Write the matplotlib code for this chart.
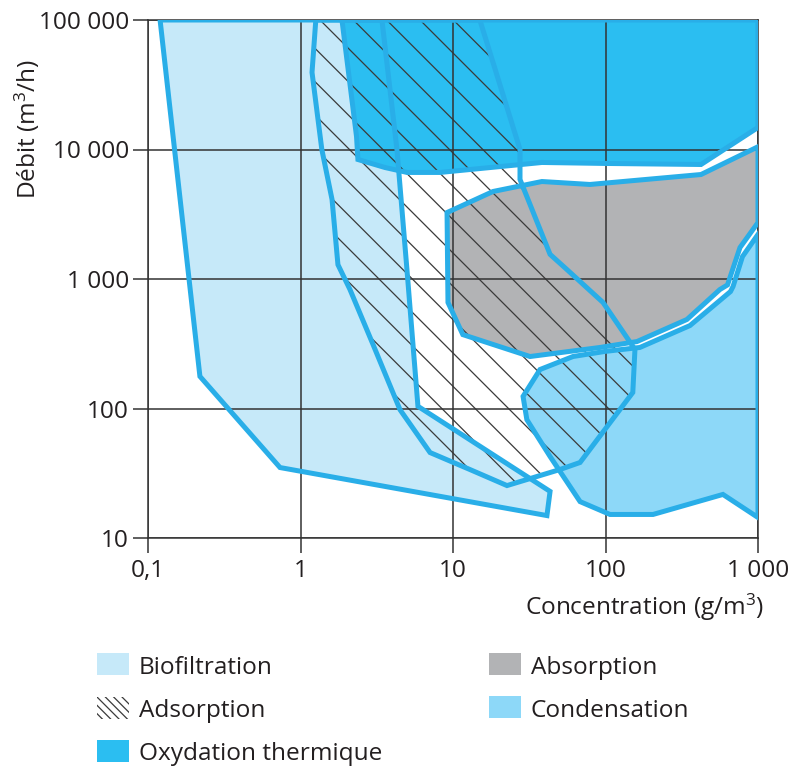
import matplotlib
matplotlib.use('Agg')
import matplotlib.pyplot as plt
from matplotlib.patches import Polygon, Rectangle
from matplotlib.ticker import FixedLocator, NullLocator, FixedFormatter

plt.rcParams['font.family'] = ['Open Sans', 'DejaVu Sans']
plt.rcParams['mathtext.fontset'] = 'custom'
plt.rcParams['mathtext.rm'] = 'Open Sans'
plt.rcParams['mathtext.it'] = 'Open Sans:italic'
plt.rcParams['mathtext.default'] = 'regular'
plt.rcParams['hatch.linewidth'] = 0.45

# ---------------- data ----------------
x_ticks = [0.1, 1, 10, 100, 1000]
x_labels = ['0,1', '1', '10', '100', '1 000']
y_ticks = [10, 100, 1000, 10000, 100000]
y_labels = ['10', '100', '1 000', '10 000', '100 000']

bio_conc = [0.12, 3.42, 4.29, 4.99, 5.89, 43.3, 41.3, 0.734, 0.219]
bio_debit = [100000, 100000, 10000, 1180, 104, 22.9, 14.9, 35.0, 177]

ads_conc = [1.26, 1.19, 1.38, 1.61, 1.76, 2.11, 2.99, 4.49, 7.07, 12.9, 22.6,
            50.3, 68.1, 151, 156, 96.3, 56.0, 43.3, 27.5, 27.5, 15.0]
ads_debit = [100000, 39400, 10000, 4110, 1290, 830, 312, 98, 45.7, 33.8, 25.4,
             33.8, 38.3, 133, 286, 659, 1180, 1550, 5870, 10000, 100000]

oxy_conc = [1.87, 2.33, 2.38, 3.58, 5.0, 8.22, 38.3, 102, 423, 1000, 1000]
oxy_debit = [100000, 12600, 8370, 7260, 6650, 6650, 7940, 7800, 7660, 14800, 100000]

abs_conc = [9.14, 18.3, 38.3, 79.1, 423, 1000, 1000, 762, 631, 563, 342, 161,
            92.0, 32.0, 11.6, 9.27]
abs_debit = [3260, 4740, 5660, 5370, 6410, 10500, 2730, 1750, 900, 830, 487, 329,
             296, 252, 372, 659]

cond_conc = [1000, 791, 686, 660, 358, 168, 99.3, 61.2, 37.2, 28.8, 30.5, 43.3,
             68.1, 107, 205, 589, 1000]
cond_debit = [2210, 1490, 875, 800, 437, 296, 276, 252, 200, 124, 82, 42.6,
              19.1, 15.2, 15.2, 21.7, 14.4]

legend_labels = ['Biofiltration', 'Adsorption', 'Oxydation thermique',
                 'Absorption', 'Condensation']

# ---------------- style ----------------
C_BIO = '#c6e9f9'
C_OXY = '#2bbef1'
C_ABS = '#b2b3b5'
C_COND = '#8dd8f8'
C_EDGE = '#29aee8'
C_HATCH = '#3a3a3a'
C_TEXT = '#231f20'
C_GRID = '#333333'

W, H, DPI = 793, 767, 200
fig = plt.figure(figsize=(W / DPI, H / DPI), dpi=DPI)
ax = fig.add_axes([148 / W, 1 - 538 / H, 610 / W, 518 / H])
ax.set_xscale('log')
ax.set_yscale('log')
ax.set_xlim(0.1, 1000)
ax.set_ylim(10, 100000)

FS = 8.8
LW = 1.8

def poly(xs, ys, **kw):
    return Polygon(list(zip(xs, ys)), closed=True, **kw)

# fills
ax.add_patch(poly(bio_conc, bio_debit, facecolor=C_BIO, edgecolor='none', zorder=1))
ax.add_patch(poly(abs_conc, abs_debit, facecolor=C_ABS, edgecolor='none', zorder=1))
ax.add_patch(poly(cond_conc, cond_debit, facecolor=C_COND, edgecolor='none', zorder=1))
ax.add_patch(poly(oxy_conc, oxy_debit, facecolor=C_OXY, edgecolor='none', zorder=1.2))
# hatch
ax.add_patch(poly(ads_conc, ads_debit, facecolor='none', edgecolor=C_HATCH,
                  linewidth=0, hatch='\\\\', zorder=2))
# outlines
for xs, ys in [(bio_conc, bio_debit), (abs_conc, abs_debit), (cond_conc, cond_debit),
               (oxy_conc, oxy_debit), (ads_conc, ads_debit)]:
    ax.add_patch(poly(xs, ys, facecolor='none', edgecolor=C_EDGE, linewidth=LW,
                      joinstyle='miter', zorder=3))

ax.set_axisbelow(False)
ax.xaxis.set_major_locator(FixedLocator(x_ticks))
ax.xaxis.set_major_formatter(FixedFormatter(x_labels))
ax.yaxis.set_major_locator(FixedLocator(y_ticks))
ax.yaxis.set_major_formatter(FixedFormatter(y_labels))
ax.xaxis.set_minor_locator(NullLocator())
ax.yaxis.set_minor_locator(NullLocator())
ax.grid(True, color=C_GRID, linewidth=0.55)
for s in ax.spines.values():
    s.set_color(C_GRID)
    s.set_linewidth(0.55)
    s.set_zorder(2.6)
ax.tick_params(axis='both', direction='out', length=5.4, width=0.55, color=C_GRID,
               labelsize=FS, labelcolor=C_TEXT)
ax.tick_params(axis='x', pad=2.3)
ax.tick_params(axis='y', pad=1.4)

# axis labels
fig.text(27 / W, 1 - 128.5 / H, 'Débit (m$^{3}$/h)', rotation=90, ha='center',
         va='center', fontsize=FS, color=C_TEXT)
fig.text(764 / W, 1 - 615 / H, 'Concentration (g/m$^{3}$)', ha='right',
         va='baseline', fontsize=FS, color=C_TEXT)

# legend
entries = [
    (97, 653, C_BIO, None, legend_labels[0], 139, 674),
    (97, 697, 'none', '\\' * 8, legend_labels[1], 139, 717),
    (97, 740, C_OXY, None, legend_labels[2], 139, 760),
    (489, 653, C_ABS, None, legend_labels[3], 531, 674),
    (489, 696, C_COND, None, legend_labels[4], 531, 717),
]
for bx, by, fc, hatch, lab, tx, ty in entries:
    r = Rectangle((bx / W, 1 - (by + 22) / H), 32 / W, 22 / H, transform=fig.transFigure,
                  facecolor=fc, edgecolor=(C_HATCH if hatch else 'none'),
                  linewidth=0, hatch=hatch)
    fig.add_artist(r)
    fig.text(tx / W, 1 - ty / H, lab, ha='left', va='baseline', fontsize=FS, color=C_TEXT)

fig.savefig('out.png', dpi=DPI)
